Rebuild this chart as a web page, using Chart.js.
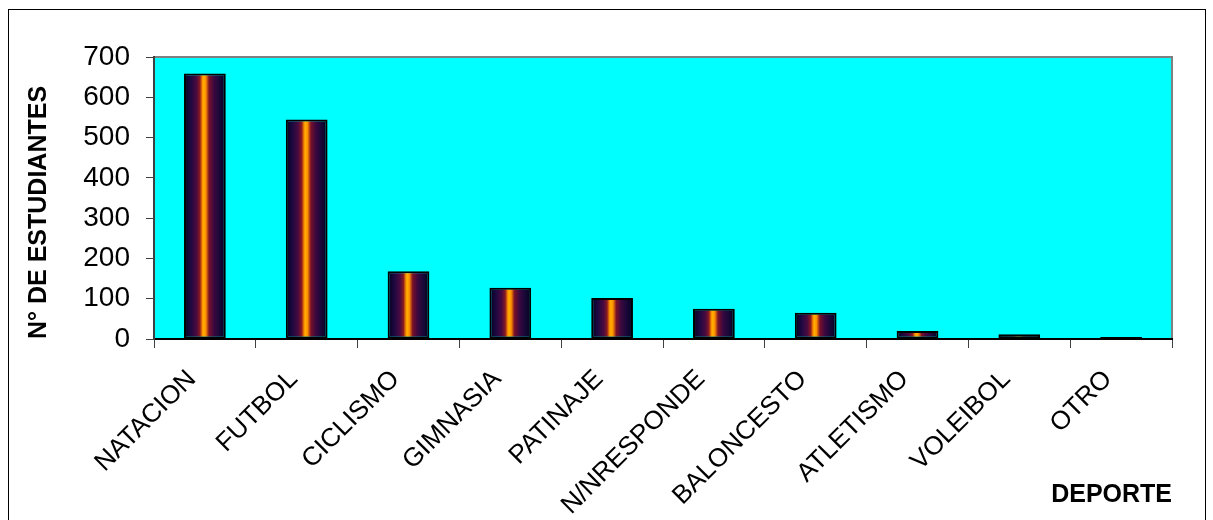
<!DOCTYPE html>
<html>
<head>
<meta charset="utf-8">
<script src="https://cdn.jsdelivr.net/npm/chart.js@4/dist/chart.umd.min.js"></script>
<style>
  body { margin: 0; background: #fff; }
  #wrap { position: relative; width: 1213px; height: 520px; overflow: hidden; }
  #marco { position: absolute; left: 8px; top: 9px; width: 1196px; height: 600px; border: 1px solid #000; }
  canvas { position: absolute; left: 0; top: 0; }
</style>
</head>
<body>
<div id="wrap">
  <div id="marco"></div>
  <canvas id="grafico" width="1213" height="520"></canvas>
</div>
<script>
// deportes practicados por los estudiantes
const deportes = ['NATACION', 'FUTBOL', 'CICLISMO', 'GIMNASIA', 'PATINAJE',
                  'N/NRESPONDE', 'BALONCESTO', 'ATLETISMO', 'VOLEIBOL', 'OTRO'];
const estudiantes = [659, 545, 168, 127, 102, 75, 65, 20, 12, 5];
const ticksY = [0, 100, 200, 300, 400, 500, 600, 700];

const FUENTE = "'Liberation Sans', Arial, sans-serif";
const ANCHO_BARRA = 0.41;

// degradado horizontal de cada barra (oscuro en bordes, naranja al centro)
function colorBarra(c) {
  const chart = c.chart;
  const x = chart.scales.x;
  if (!x || c.dataIndex === undefined) return '#400030';
  const cx = x.getPixelForValue(c.dataIndex);
  const paso = x.getPixelForValue(1) - x.getPixelForValue(0);
  if (!isFinite(cx) || !isFinite(paso) || paso <= 0) return '#400030';
  const m = paso * ANCHO_BARRA / 2;
  const g = chart.ctx.createLinearGradient(cx - m, 0, cx + m, 0);
  g.addColorStop(0.00, '#05001a');
  g.addColorStop(0.15, '#1a0840');
  g.addColorStop(0.30, '#4a0a40');
  g.addColorStop(0.38, '#8a1a20');
  g.addColorStop(0.44, '#ff9000');
  g.addColorStop(0.47, '#ffb000');
  g.addColorStop(0.52, '#ff9000');
  g.addColorStop(0.60, '#7a1028');
  g.addColorStop(0.72, '#3a0840');
  g.addColorStop(0.86, '#160838');
  g.addColorStop(1.00, '#05001a');
  return g;
}

const fondoCian = {
  id: 'fondoCian',
  beforeDraw(chart) {
    const { ctx, chartArea: a } = chart;
    ctx.save();
    ctx.fillStyle = '#00ffff';
    ctx.fillRect(a.left, a.top, a.right - a.left, a.bottom - a.top);
    ctx.strokeStyle = '#808080';
    ctx.lineWidth = 2;
    ctx.beginPath();
    ctx.moveTo(a.left, a.top);
    ctx.lineTo(a.right, a.top);
    ctx.lineTo(a.right, a.bottom);
    ctx.stroke();
    ctx.restore();
  }
};

new Chart(document.getElementById('grafico'), {
  type: 'bar',
  data: {
    labels: deportes,
    datasets: [{
      data: estudiantes,
      backgroundColor: colorBarra,
      borderColor: '#000',
      borderWidth: 2,
      borderSkipped: false,
      categoryPercentage: 1,
      barPercentage: ANCHO_BARRA
    }]
  },
  options: {
    responsive: false,
    animation: false,
    layout: { padding: { top: 57, right: 41, left: 24, bottom: 0 } },
    plugins: { legend: { display: false }, tooltip: { enabled: false } },
    scales: {
      x: {
        afterFit(s) { s.height = 181; },
        grid: { drawOnChartArea: false, offset: true, tickLength: 9, color: '#404040', lineWidth: 1 },
        border: { color: '#000', width: 2 },
        ticks: {
          minRotation: 45, maxRotation: 45, autoSkip: false, padding: 16, labelOffset: -13,
          color: '#000', font: { family: FUENTE, size: 26 }
        },
        title: {
          display: true, text: 'DEPORTE', align: 'end', color: '#000',
          font: { family: FUENTE, size: 25, weight: 'bold' },
          padding: { top: 0, bottom: 10 }
        }
      },
      y: {
        min: 0, max: 700,
        afterFit(s) { s.width = 130; },
        afterBuildTicks(s) { s.ticks = ticksY.map(v => ({ value: v })); },
        grid: { drawOnChartArea: false, tickLength: 8, color: '#404040' },
        border: { color: '#404040', width: 2 },
        ticks: { color: '#000', padding: 16, font: { family: FUENTE, size: 28 } },
        title: {
          display: true, text: 'N° DE ESTUDIANTES', color: '#000', align: 'start',
          font: { family: FUENTE, size: 25, weight: 'bold' },
          padding: { top: 0, bottom: 0 }
        }
      }
    }
  },
  plugins: [fondoCian]
});
</script>
</body>
</html>
